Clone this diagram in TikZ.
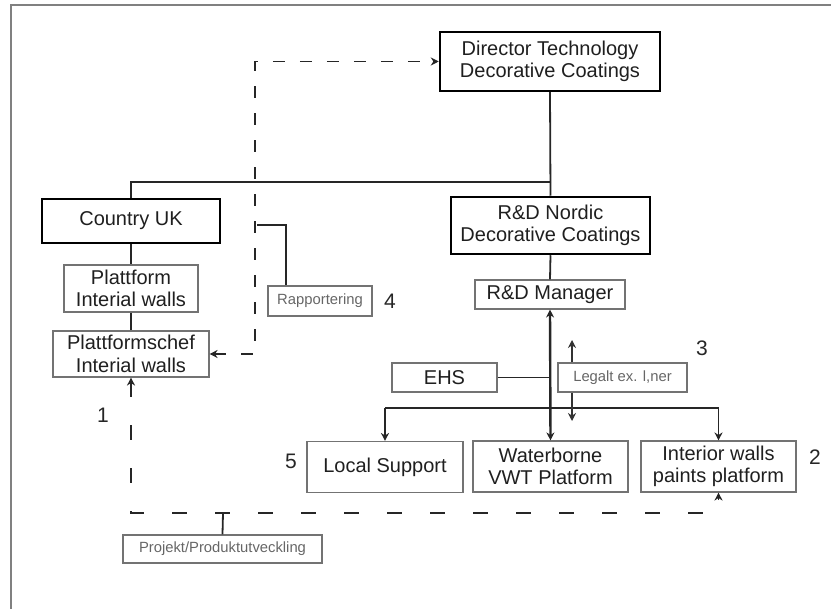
\documentclass[tikz,border=0pt]{standalone}
\usepackage{fontspec}
\setmainfont{Liberation Sans}
\usetikzlibrary{arrows.meta}
\definecolor{framegray}{gray}{0.5}
\definecolor{boxgray}{gray}{0.45}
\definecolor{notegray}{gray}{0.4}
\begin{document}
\begin{tikzpicture}[x=1pt,y=-1pt,
  every node/.style={inner sep=0pt,align=center,text=black!88,font=\fontsize{20}{22.5}\selectfont},
  mainbox/.style={draw=black,line width=2.5pt},
  subbox/.style={draw=boxgray,line width=1.1pt},
  notebox/.style={draw=boxgray,line width=1.1pt,text=notegray,font=\fontsize{14.8}{17}\selectfont},
  numlabel/.style={font=\fontsize{21}{24}\selectfont,text=black!85},
  link/.style={draw=black!85,line width=1.8pt},
  tip/.style={-{Stealth[length=8pt,width=8pt]}},
  dtip/.style={{Stealth[length=8pt,width=8pt]}-{Stealth[length=8pt,width=8pt]}},
  dashfine/.style={dash pattern=on 12pt off 15pt},
  dashwide/.style={dash pattern=on 15pt off 28pt}]
\useasboundingbox (0,0) rectangle (831,609);

% outer frame (top and left edges)
\draw[framegray,line width=2pt] (11,609) -- (11,5) -- (831,5);

% boxes
\node[mainbox,minimum width=220pt,minimum height=59pt] (dir) at (550,61.5) {Director Technology\\Decorative Coatings};
\node[mainbox,minimum width=178pt,minimum height=44pt] (uk) at (131,221) {Country UK};
\node[subbox,minimum width=134pt,minimum height=47pt] (plat) at (131,288.5) {Plattform\\Interial walls};
\node[subbox,minimum width=156pt,minimum height=46pt] (chef) at (131,354) {Plattformschef\\Interial walls};
\node[notebox,minimum width=104pt,minimum height=30pt] (rap) at (320,301) {Rapportering};
\node[mainbox,minimum width=199pt,minimum height=57pt] (nordic) at (550.5,225.5) {R\&D Nordic\\Decorative Coatings};
\node[subbox,minimum width=150pt,minimum height=29pt] (mgr) at (550,294.5) {R\&D Manager};
\node[subbox,minimum width=105pt,minimum height=29pt] (ehs) at (444.5,377.5) {EHS};
\node[notebox,minimum width=129pt,minimum height=29pt] (legal) at (622.5,377.5) {Legalt ex. l,ner};
\node[subbox,minimum width=156pt,minimum height=51pt] (local) at (385,467) {Local Support};
\node[subbox,minimum width=155pt,minimum height=51pt] (water) at (550.5,466.5) {Waterborne\\VWT Platform};
\node[subbox,minimum width=155pt,minimum height=51pt] (inter) at (718.5,466.5) {Interior walls\\paints platform};
\node[notebox,minimum width=199pt,minimum height=28pt] (proj) at (222.5,549) {Projekt/Produktutveckling};

% number labels
\node[numlabel] (n1) at (103,415) {1};
\node[numlabel] (n2) at (815,457) {2};
\node[numlabel] (n3) at (702,348) {3};
\node[numlabel] (n4) at (390,301) {4};
\node[numlabel] (n5) at (291,461) {5};

% junction points
\coordinate (topbus) at (551,182);
\coordinate (dA) at (255,354);
\coordinate (dB) at (255,61.5);
\coordinate (rA) at (257,225);
\coordinate (rB) at (286,225);
\coordinate (ehsJ) at (551,377.5);
\coordinate (lowbus) at (385,408);
\coordinate (lowbusR) at (718.5,408);
\coordinate (bA) at (131,513);
\coordinate (bB) at (718.5,513);
\coordinate (pJ) at (223,513);
\coordinate (legUp) at (572,340);
\coordinate (legDn) at (572,421);

% solid hierarchy
\draw[link] (dir.south) -- (nordic.north);
\draw[link] (topbus) -- (131,182) -- (uk.north);
\draw[link] (uk.south) -- (plat.north);
\draw[link] (plat.south) -- (chef.north);
\draw[link] (nordic.south) -- (mgr.north);
\draw[link,line width=2.4pt,dtip] (mgr.south) -- (water.north);
\draw[link] (ehs.east) -- (ehsJ);
\draw[link,tip] (lowbus) -- (local.north);
\draw[link] (lowbus) -- (lowbusR);
\draw[link,tip] (lowbusR) -- (inter.north);

% reporting line
\draw[link,dtip,dashfine] (chef.east) -- (dA) -- (dB) -- (dir.west);
\draw[link] (rA) -- (rB) -- (rB |- rap.north);

% legal link
\draw[draw=black!80,line width=1.1pt,tip] (legal.north -| legUp) -- (legUp);
\draw[draw=black!80,line width=1.1pt,tip] (legal.south -| legDn) -- (legDn);

% project line
\draw[link,dtip,dashwide] (chef.south) -- (bA) -- (bB) -- (inter.south);
\draw[link] (pJ) -- (proj.north);
\end{tikzpicture}
\end{document}
